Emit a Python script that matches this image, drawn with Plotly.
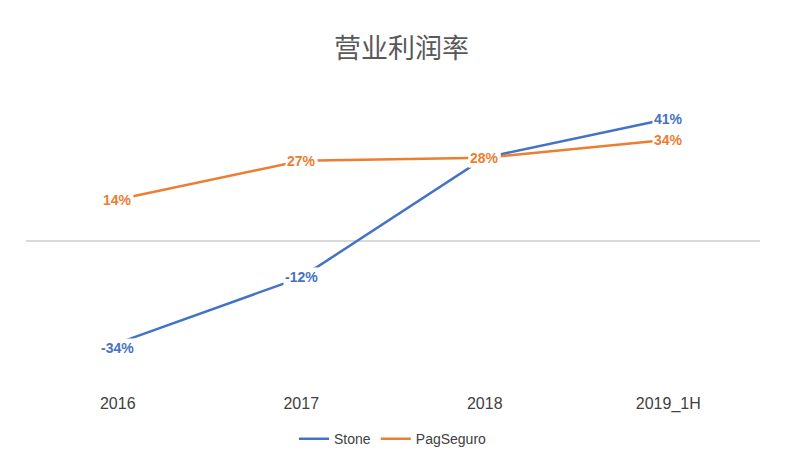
import plotly.graph_objects as go

categories = ["2016", "2017", "2018", "2019_1H"]
stone = [-34, -12, 28, 41]
pag = [14, 27, 28, 34]

fig = go.Figure()
fig.add_trace(go.Scatter(x=categories, y=stone, name="Stone", mode="lines",
    line=dict(color="#4472C4", width=2.5)))
fig.add_trace(go.Scatter(x=categories, y=pag, name="PagSeguro", mode="lines",
    line=dict(color="#ED7D31", width=2.5)))

for vals, color in [(stone, "#4472C4"), (pag, "#ED7D31")]:
    for i, v in enumerate(vals):
        fig.add_annotation(x=i, y=v, xref="x", yref="y", text=f"<b>{v}%</b>", showarrow=False,
            bgcolor="white", borderpad=1, yshift=(-5 if (i == 0 and v < 0) else 0),
            font=dict(color=color, size=14, family="Liberation Sans"))

fig.update_layout(
    width=787, height=473, paper_bgcolor="white", plot_bgcolor="white",
    margin=dict(l=18, r=35, t=60, b=93),
    title=dict(text="营业利润率", x=0.5, y=0.915, xanchor="center", yanchor="middle",
               font=dict(size=27, color="#595959", family="Noto Sans CJK SC")),
    xaxis=dict(range=[-0.5, 3.5], showgrid=False, showline=False, ticks="",
               tickfont=dict(size=16, color="#404040"), ticklabelstandoff=4),
    yaxis=dict(range=[-49, 58], showgrid=False, showticklabels=False, zeroline=True,
               zerolinecolor="#D9D9D9", zerolinewidth=1.5),
    legend=dict(orientation="h", x=0.5, xanchor="center", y=-0.11, yanchor="top",
                font=dict(size=14, color="#404040")),
    font=dict(family="Liberation Sans"),
)
fig.write_html("out.html")
